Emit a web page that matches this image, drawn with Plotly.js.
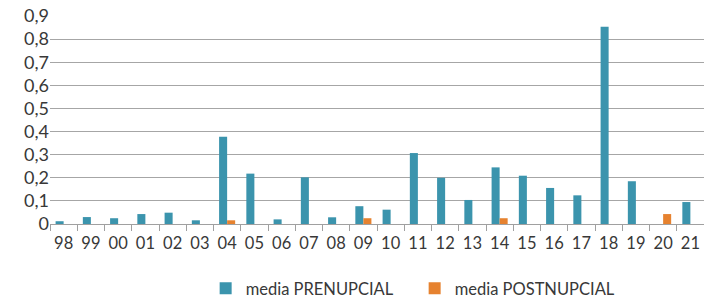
<!DOCTYPE html>
<html><head><meta charset="utf-8">
<script src="https://cdn.plot.ly/plotly-3.0.1.min.js"></script>
<style>html,body{margin:0;padding:0;background:#fff}</style>
</head><body>
<div id="chart" style="width:704px;height:298px"></div>
<script>
const categories = ["98","99","00","01","02","03","04","05","06","07","08","09","10","11","12","13","14","15","16","17","18","19","20","21"];
const prenupcial = [0.012,0.030,0.025,0.043,0.049,0.016,0.378,0.218,0.020,0.202,0.029,0.077,0.062,0.307,0.200,0.104,0.245,0.209,0.156,0.124,0.853,0.185,0,0.095];
const postnupcial = [0,0,0,0,0,0,0.016,0,0,0,0,0.025,0,0,0,0,0.025,0,0,0,0,0,0.043,0];
const yTicks = [0,0.1,0.2,0.3,0.4,0.5,0.6,0.7,0.8,0.9];

const data = [
  {type:'bar', name:'media PRENUPCIAL', x:categories, y:prenupcial, marker:{color:'#3b94ad'}},
  {type:'bar', name:'media POSTNUPCIAL', x:categories, y:postnupcial, marker:{color:'#e6822f'}}
];
const layout = {
  width:704, height:298,
  margin:{l:50, r:0, t:16, b:74, autoexpand:false},
  separators:', ',
  barmode:'group', bargap:0.41, bargroupgap:0,
  paper_bgcolor:'#fff', plot_bgcolor:'#fff',
  font:{family:'Lato, "Open Sans", sans-serif', size:16, color:'#383838'},
  xaxis:{type:'category', automargin:false, tickangle:0, showgrid:false, showline:true, linecolor:'#a0a0a0', linewidth:1,
         ticks:'outside', tickson:'boundaries', ticklen:6, tickcolor:'#a0a0a0', ticklabelstandoff:4, tickfont:{size:16.5}},
  yaxis:{range:[0,0.9], automargin:false, tickvals:yTicks, showgrid:true, gridcolor:'#a6a6a6', gridwidth:1,
         zeroline:false, showline:false, ticks:'', tickfont:{size:18}, fixedrange:true},
  showlegend:true,
  legend:{orientation:'h', x:0.238, xanchor:'left', y:-0.31, yanchor:'middle', font:{size:16.5},
          entrywidth:164, entrywidthmode:'pixels', itemwidth:30}
};
Plotly.newPlot('chart', data, layout, {displayModeBar:false, staticPlot:true});
</script>
</body></html>
